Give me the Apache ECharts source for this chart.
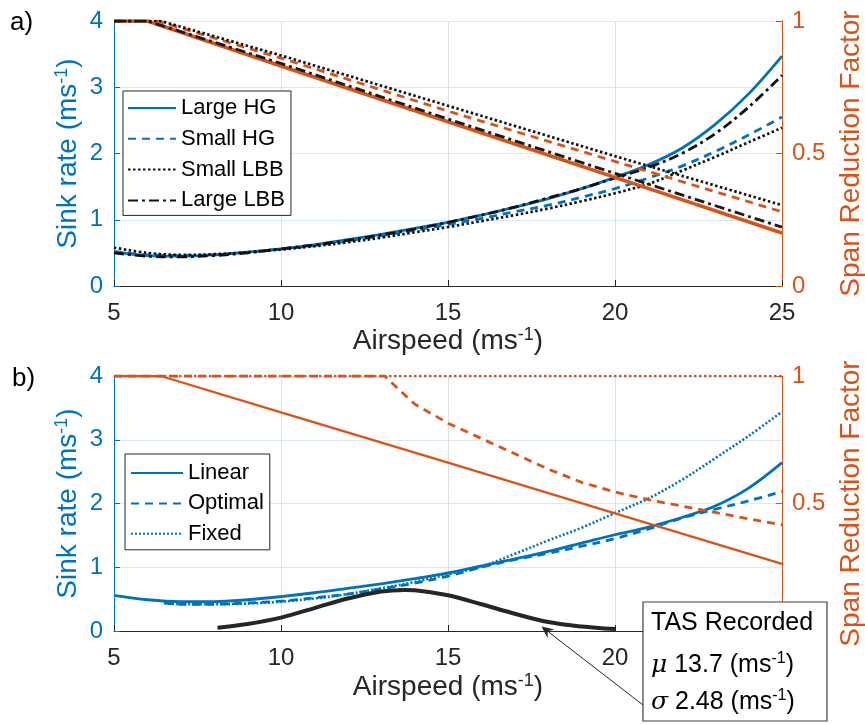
<!DOCTYPE html>
<html>
<head>
<meta charset="utf-8">
<script src="https://cdn.jsdelivr.net/npm/echarts/dist/echarts.min.js"></script>
<style>
  html, body { margin: 0; padding: 0; background: #ffffff; }
  #chart { width: 865px; height: 724px; }
</style>
</head>
<body>
<div id="chart"></div>
<script>
// ---------- data: panel a) hang glider (HG) vs large/small bird (LBB) ----------
const airspeed = [5, 6, 7, 8, 9, 10, 11, 12, 13, 14, 15, 16, 17, 18, 19, 20, 21, 22, 23, 24, 25];

const sinkLargeHG  = [0.52, 0.46, 0.45, 0.47, 0.51, 0.56, 0.62, 0.70, 0.78, 0.87, 0.96, 1.07, 1.19, 1.32, 1.47, 1.64, 1.83, 2.08, 2.44, 2.90, 3.47];
const sinkSmallHG  = [0.52, 0.47, 0.46, 0.47, 0.51, 0.56, 0.61, 0.68, 0.76, 0.84, 0.93, 1.02, 1.12, 1.22, 1.34, 1.47, 1.63, 1.81, 2.03, 2.28, 2.55];
const sinkSmallLBB = [0.58, 0.50, 0.47, 0.48, 0.51, 0.55, 0.60, 0.66, 0.73, 0.81, 0.89, 0.98, 1.07, 1.17, 1.28, 1.40, 1.54, 1.74, 1.95, 2.17, 2.39];
const sinkLargeLBB = [0.50, 0.45, 0.44, 0.46, 0.50, 0.56, 0.62, 0.69, 0.77, 0.86, 0.96, 1.07, 1.19, 1.33, 1.47, 1.63, 1.79, 2.00, 2.30, 2.70, 3.18];

const srfLargeHGSpeed  = [5, 6.0, 10, 15, 20, 25];
const srfLargeHG       = [1, 1, 0.83, 0.62, 0.41, 0.20];
const srfSmallHGSpeed  = [5, 6.3, 10, 15, 20, 25];
const srfSmallHG       = [1, 1, 0.86, 0.66, 0.47, 0.28];
const srfSmallLBBSpeed = [5, 6.4, 10, 15, 20, 25];
const srfSmallLBB      = [1, 1, 0.87, 0.68, 0.49, 0.305];
const srfLargeLBBSpeed = [5, 6.0, 10, 15, 20, 25];
const srfLargeLBB      = [1, 1, 0.84, 0.63, 0.425, 0.222];

// ---------- data: panel b) span reduction strategies ----------
const sinkLinear = [0.56, 0.49, 0.46, 0.46, 0.49, 0.54, 0.60, 0.67, 0.74, 0.82, 0.91, 1.02, 1.13, 1.25, 1.38, 1.51, 1.63, 1.78, 1.96, 2.24, 2.64];
const sweptSpeed  = [6.5, 7, 8, 9, 10, 11, 12, 13, 14, 15, 16, 17, 18, 19, 20, 21, 22, 23, 24, 25];
const sinkOptimal = [0.44, 0.42, 0.42, 0.44, 0.47, 0.52, 0.58, 0.66, 0.75, 0.86, 1.00, 1.12, 1.22, 1.33, 1.45, 1.60, 1.77, 1.91, 2.04, 2.19];
const sinkFixed   = [0.44, 0.42, 0.42, 0.43, 0.46, 0.51, 0.58, 0.67, 0.77, 0.89, 1.01, 1.21, 1.42, 1.62, 1.85, 2.08, 2.37, 2.71, 3.06, 3.44];

const srfLinearSpeed  = [5, 6.4, 10, 15, 20, 25];
const srfLinear       = [1, 1, 0.857, 0.66, 0.461, 0.263];
const srfOptimalSpeed = [5, 13.1, 14, 15, 16, 17, 18, 19, 20, 21, 22, 23, 24, 25];
const srfOptimal      = [1, 1, 0.89, 0.815, 0.755, 0.695, 0.635, 0.583, 0.545, 0.515, 0.49, 0.465, 0.44, 0.416];
const srfFixedSpeed   = [5, 25];
const srfFixed        = [1, 1];

// recorded true airspeed distribution (mu 13.7, sigma 2.48), drawn on the sink-rate axis
const tasSpeed   = [8.1, 9, 10, 11, 12, 13, 13.7, 14, 15, 16, 17, 18, 19, 20];
const tasDensity = [0.05, 0.11, 0.21, 0.36, 0.51, 0.62, 0.645, 0.64, 0.56, 0.42, 0.27, 0.14, 0.07, 0.03];

// tick values
const speedTicks = [5, 10, 15, 20, 25];
const sinkTicks  = [0, 1, 2, 3, 4];
const srfTicks   = [0, 0.5, 1];

// ---------- styling ----------
const BLUE = '#0072BD';
const ORANGE = '#D95319';
const INK = '#262626';
const FONT = '"Liberation Sans", Arial, Helvetica, sans-serif';

const pairs = (xs, ys) => xs.map((x, i) => [x, ys[i]]);

function xAxisFor(gridIndex) {
  return {
    gridIndex, type: 'value',
    min: speedTicks[0], max: speedTicks[speedTicks.length - 1], interval: speedTicks[1] - speedTicks[0],
    axisLine: { show: true, onZero: false, lineStyle: { color: INK, width: 1 } },
    axisTick: { show: true, inside: true, length: 6, lineStyle: { color: INK } },
    axisLabel: { color: INK, fontSize: 24, fontFamily: FONT, margin: 15, showMinLabel: true, showMaxLabel: true },
    splitLine: { show: true, lineStyle: { color: '#dfdfdf', width: 1 } }
  };
}
function sinkAxisFor(gridIndex) {
  return {
    gridIndex, type: 'value', position: 'left',
    min: sinkTicks[0], max: sinkTicks[sinkTicks.length - 1], interval: sinkTicks[1] - sinkTicks[0],
    axisLine: { show: true, onZero: false, lineStyle: { color: BLUE, width: 1 } },
    axisTick: { show: true, inside: true, length: 6, lineStyle: { color: BLUE } },
    axisLabel: { color: BLUE, fontSize: 24, fontFamily: FONT, margin: 11, showMinLabel: true, showMaxLabel: true },
    splitLine: { show: true, lineStyle: { color: '#d9e9f5', width: 1 } }
  };
}
function srfAxisFor(gridIndex) {
  return {
    gridIndex, type: 'value', position: 'right',
    min: srfTicks[0], max: srfTicks[srfTicks.length - 1], interval: srfTicks[1] - srfTicks[0],
    axisLine: { show: true, onZero: false, lineStyle: { color: ORANGE, width: 1 } },
    axisTick: { show: true, inside: true, length: 6, lineStyle: { color: ORANGE } },
    axisLabel: { color: ORANGE, fontSize: 24, fontFamily: FONT, margin: 10, showMinLabel: true, showMaxLabel: true },
    splitLine: { show: false }
  };
}

function line(name, xi, yi, data, color, width, type, smooth) {
  return {
    name, type: 'line', xAxisIndex: xi, yAxisIndex: yi, data,
    symbol: 'none', showSymbol: false, smooth: smooth ? 0.35 : false,
    lineStyle: { color, width, type: type || 'solid', cap: 'butt' },
    itemStyle: { color },
    emphasis: { disabled: true }, silent: true, z: 3
  };
}

const DASH = [8, 6];
const DOT = [2.5, 2.5];
const DASHDOT = [10, 4, 3, 4];

const series = [
  // panel a) sink rate
  line('Large HG', 0, 0, pairs(airspeed, sinkLargeHG), BLUE, 2.8, 'solid', true),
  line('Small HG', 0, 0, pairs(airspeed, sinkSmallHG), BLUE, 2.8, DASH, true),
  line('Small LBB', 0, 0, pairs(airspeed, sinkSmallLBB), '#111111', 2.7, DOT, true),
  line('Large LBB', 0, 0, pairs(airspeed, sinkLargeLBB), '#111111', 2.8, DASHDOT, true),
  // panel a) span reduction factor
  line('Large HG SRF', 0, 1, pairs(srfLargeHGSpeed, srfLargeHG), ORANGE, 3.6, 'solid', false),
  line('Small HG SRF', 0, 1, pairs(srfSmallHGSpeed, srfSmallHG), ORANGE, 2.8, DASH, false),
  line('Small LBB SRF', 0, 1, pairs(srfSmallLBBSpeed, srfSmallLBB), '#111111', 2.7, DOT, false),
  line('Large LBB SRF', 0, 1, pairs(srfLargeLBBSpeed, srfLargeLBB), '#1a1a1a', 2.8, DASHDOT, false),
  // panel b) sink rate
  line('Linear', 1, 2, pairs(airspeed, sinkLinear), BLUE, 2.8, 'solid', true),
  line('Optimal', 1, 2, pairs(sweptSpeed, sinkOptimal), BLUE, 2.8, DASH, true),
  line('Fixed', 1, 2, pairs(sweptSpeed, sinkFixed), BLUE, 2.6, [2, 2], true),
  // panel b) span reduction factor
  line('Linear SRF', 1, 3, pairs(srfLinearSpeed, srfLinear), ORANGE, 2.3, 'solid', false),
  line('Optimal SRF', 1, 3, pairs(srfOptimalSpeed, srfOptimal), ORANGE, 2.8, DASH, false),
  line('Fixed SRF', 1, 3, pairs(srfFixedSpeed, srfFixed), ORANGE, 2.4, DOT, false),
  // panel b) recorded airspeed distribution
  line('TAS Recorded', 1, 2, pairs(tasSpeed, tasDensity), INK, 4, 'solid', true)
];

const legendText = { color: '#000000', fontSize: 22, fontFamily: FONT, lineHeight: 22 };
// legend keys show the line stroke only, no marker
const legendMarker = { opacity: 0, borderWidth: 0 };

const option = {
  animation: false,
  backgroundColor: '#ffffff',
  grid: [
    { left: 114, top: 21, width: 668, height: 265, outerBoundsMode: 'none', containLabel: false },
    { left: 114, top: 376, width: 668, height: 255, outerBoundsMode: 'none', containLabel: false }
  ],
  xAxis: [xAxisFor(0), xAxisFor(1)],
  yAxis: [sinkAxisFor(0), srfAxisFor(0), sinkAxisFor(1), srfAxisFor(1)],
  legend: [
    {
      data: ['Large HG', 'Small HG', 'Small LBB', 'Large LBB'],
      orient: 'vertical', left: 123, top: 91,
      itemWidth: 48, itemHeight: 14, itemGap: 8.8,
      padding: [6, 6, 4, 4],
      backgroundColor: '#ffffff', borderColor: INK, borderWidth: 1, borderRadius: 0,
      itemStyle: legendMarker,
      textStyle: legendText, selectedMode: false
    },
    {
      data: ['Linear', 'Optimal', 'Fixed'],
      orient: 'vertical', left: 125, top: 454,
      itemWidth: 52, itemHeight: 14, itemGap: 8.4,
      padding: [8, 6, 5, 5],
      backgroundColor: '#ffffff', borderColor: INK, borderWidth: 1, borderRadius: 0,
      itemStyle: legendMarker,
      textStyle: legendText, selectedMode: false
    }
  ],
  series
};

const chart = echarts.init(document.getElementById('chart'), null, { renderer: 'canvas' });
chart.setOption(option);

// ---------- titles, panel tags and the recorded-airspeed callout ----------
function titleText(x, y, parts, color, rotation) {
  return {
    type: 'text', x, y, rotation: rotation || 0, silent: true, z: 10,
    style: {
      text: parts, fill: color, align: 'center', verticalAlign: 'middle',
      rich: {
        t: { fontSize: 28, fontFamily: FONT, lineHeight: 30, fill: color },
        s: { fontSize: 18, fontFamily: FONT, verticalAlign: 'top', lineHeight: 16, fill: color }
      }
    }
  };
}
const unitTitle = (label) => '{t|' + label + ' (ms}{s|-1}{t|)}';

const topGrid = { top: 21, bottom: 286 };
const botGrid = { top: 376, bottom: 631 };

const graphics = [
  { type: 'text', x: 10, y: 23, silent: true, style: { text: 'a)', fill: '#000', font: '26px ' + FONT, verticalAlign: 'middle' } },
  { type: 'text', x: 12, y: 379, silent: true, style: { text: 'b)', fill: '#000', font: '26px ' + FONT, verticalAlign: 'middle' } },
  titleText(448, 341, unitTitle('Airspeed'), INK, 0),
  titleText(448, 687, unitTitle('Airspeed'), INK, 0),
  titleText(68, (topGrid.top + topGrid.bottom) / 2, unitTitle('Sink rate'), BLUE, Math.PI / 2),
  titleText(68, (botGrid.top + botGrid.bottom) / 2, unitTitle('Sink rate'), BLUE, Math.PI / 2),
  titleText(851, (topGrid.top + topGrid.bottom) / 2, '{t|Span Reduction Factor}', ORANGE, Math.PI / 2),
  titleText(851, (botGrid.top + botGrid.bottom) / 2, '{t|Span Reduction Factor}', ORANGE, Math.PI / 2)
];

// callout box with the recorded airspeed statistics
const box = { x: 643, y: 602, w: 184, h: 119 };
const boxRich = {
  t: { fontSize: 25, fontFamily: FONT, fill: '#000', lineHeight: 28 },
  g: { fontSize: 25, fontFamily: '"DejaVu Serif", "Liberation Serif", serif', fontStyle: 'italic', fill: '#000', lineHeight: 28 },
  s: { fontSize: 16, fontFamily: FONT, fill: '#000', verticalAlign: 'top', lineHeight: 14 }
};
graphics.push({
  type: 'rect', silent: true, z: 20,
  shape: { x: box.x, y: box.y, width: box.w, height: box.h },
  style: { fill: '#ffffff', stroke: '#404040', lineWidth: 1.2 }
});
const calloutLines = [
  { y: 623, text: '{t|TAS Recorded}' },
  { y: 665, text: '{g|\u03bc}{t| 13.7 (ms}{s|-1}{t|)}' },
  { y: 702, text: '{g|\u03c3}{t| 2.48 (ms}{s|-1}{t|)}' }
];
calloutLines.forEach(l => graphics.push({
  type: 'text', x: box.x + 8, y: l.y, silent: true, z: 21,
  style: { text: l.text, align: 'left', verticalAlign: 'middle', rich: boxRich }
}));

// arrow from the callout to the distribution curve
const arrowTarget = [17.8, 0.07];
const tip = chart.convertToPixel({ xAxisIndex: 1, yAxisIndex: 2 }, arrowTarget);
const tail = [box.x, 705];
const dx = tip[0] - tail[0], dy = tip[1] - tail[1];
const len = Math.hypot(dx, dy);
const ux = dx / len, uy = dy / len, nx = -uy, ny = ux;
const headL = 12, headW = 5.5;
const base = [tip[0] - ux * headL, tip[1] - uy * headL];
graphics.push({
  type: 'line', silent: true, z: 19,
  shape: { x1: tail[0], y1: tail[1], x2: base[0] + ux * 3, y2: base[1] + uy * 3 },
  style: { stroke: '#262626', lineWidth: 1 }
});
graphics.push({
  type: 'polygon', silent: true, z: 19,
  shape: { points: [
    tip,
    [base[0] + nx * headW, base[1] + ny * headW],
    [tip[0] - ux * headL * 0.65, tip[1] - uy * headL * 0.65],
    [base[0] - nx * headW, base[1] - ny * headW]
  ] },
  style: { fill: '#262626' }
});

chart.setOption({ graphic: graphics });
</script>
</body>
</html>
